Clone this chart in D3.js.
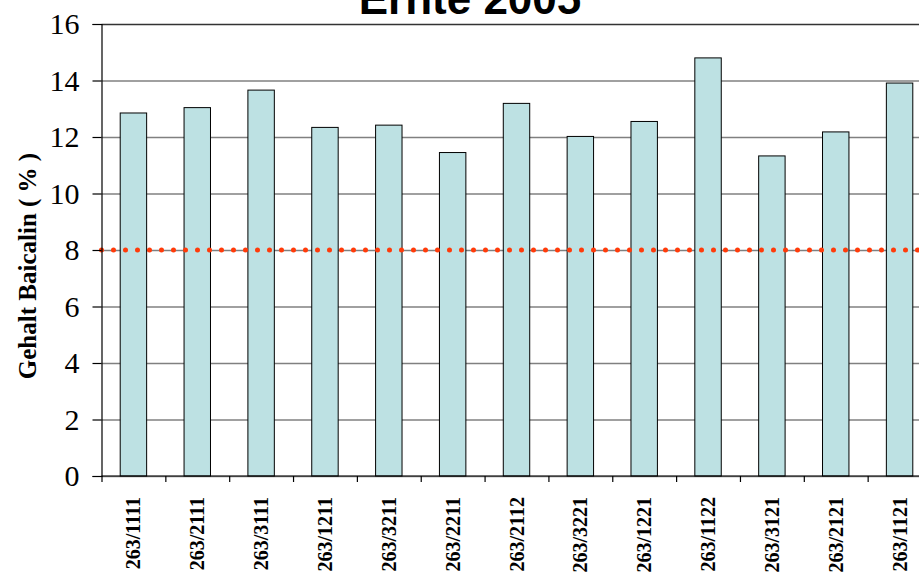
<!DOCTYPE html>
<html>
<head>
<meta charset="utf-8">
<script src="https://cdn.jsdelivr.net/npm/d3@7"></script>
<style>
  html, body { margin: 0; padding: 0; background: #fff; overflow: hidden; }
  .serif { font-family: 'Liberation Serif', 'Times New Roman', Tinos, 'DejaVu Serif', serif; }
</style>
</head>
<body>
<div id="chart"></div>
<script>
// data
const categories = ['263/1111', '263/2111', '263/3111', '263/1211', '263/3211', '263/2211', '263/2112',
  '263/3221', '263/1221', '263/1122', '263/3121', '263/2121', '263/1121'];
const values = [12.85, 13.04, 13.66, 12.34, 12.42, 11.45, 13.19, 12.02, 12.55, 14.8, 11.33, 12.18, 13.91];
const yTicks = [0, 2, 4, 6, 8, 10, 12, 14, 16];
const threshold = 8;
const title = 'Ernte 2005';
const yTitle = 'Gehalt Baicalin ( % )';

const width = 919;
const height = 576;
const plot = { left: 101.5, right: 931.5, top: 24, bottom: 476 };

const svg = d3.select('#chart')
  .append('svg')
  .attr('width', width)
  .attr('height', height)
  .attr('xmlns', 'http://www.w3.org/2000/svg');

const x = d3.scaleBand()
  .domain(categories)
  .range([plot.left, plot.right])
  .padding(0);

const xEdge = d3.scaleLinear()
  .domain([0, categories.length])
  .range([plot.left, plot.right]);

const y = d3.scaleLinear()
  .domain([0, 16])
  .range([plot.bottom, plot.top]);

// grid lines
svg.append('g')
  .attr('transform', 'translate(' + plot.left + ',0)')
  .call(d3.axisLeft(y).tickValues(yTicks).tickSize(-(plot.right - plot.left)).tickFormat(''))
  .call(g => g.select('.domain').remove())
  .call(g => g.selectAll('line')
    .attr('stroke', d => (d === 16 ? '#333' : '#808080'))
    .attr('stroke-width', 1.5));

// bars
const barW = x.bandwidth() * 0.414;
svg.append('g')
  .selectAll('rect')
  .data(values)
  .enter()
  .append('rect')
  .attr('x', (d, i) => x(categories[i]) + (x.bandwidth() - barW) / 2)
  .attr('y', d => y(d))
  .attr('width', barW)
  .attr('height', d => plot.bottom - y(d))
  .attr('fill', '#bde1e3')
  .attr('stroke', '#000')
  .attr('stroke-width', 1);

// dotted threshold line
svg.append('line')
  .attr('x1', plot.left)
  .attr('x2', plot.right)
  .attr('y1', y(threshold))
  .attr('y2', y(threshold))
  .attr('stroke', '#ff3b0a')
  .attr('stroke-width', 5)
  .attr('stroke-linecap', 'round')
  .attr('stroke-dasharray', '0,12');

// y axis
svg.append('g')
  .attr('transform', 'translate(' + plot.left + ',0)')
  .call(d3.axisLeft(y).tickValues(yTicks).tickSize(9).tickPadding(13))
  .call(g => g.attr('font-family', null).attr('font-size', null))
  .call(g => g.select('.domain').attr('stroke', '#000').attr('stroke-width', 1.2))
  .call(g => g.selectAll('line').attr('stroke', '#000').attr('stroke-width', 1.2))
  .call(g => g.selectAll('text')
    .attr('class', 'serif')
    .style('font-size', '30px')
    .attr('fill', '#000'));

// x axis with ticks between categories
svg.append('g')
  .attr('transform', 'translate(0,' + plot.bottom + ')')
  .call(d3.axisBottom(xEdge).tickValues(d3.range(0, categories.length + 1)).tickSize(6).tickFormat(''))
  .call(g => g.select('.domain').attr('stroke', '#000').attr('stroke-width', 1.2).attr('d', 'M' + plot.left + ',0H' + plot.right))
  .call(g => g.selectAll('line').attr('stroke', '#000').attr('stroke-width', 1.2));

svg.append('g')
  .selectAll('text')
  .data(categories)
  .enter()
  .append('text')
  .attr('class', 'serif')
  .attr('transform', d => 'translate(' + (x(d) + x.bandwidth() / 2 + 7) + ',497) rotate(-90)')
  .attr('text-anchor', 'end')
  .style('font-weight', 'bold')
  .style('font-size', '20px')
  .text(d => d);

// axis title
svg.append('text')
  .attr('class', 'serif')
  .attr('transform', 'translate(36,266) rotate(-90)')
  .attr('text-anchor', 'middle')
  .style('font-weight', 'bold')
  .style('font-size', '25px')
  .text(yTitle);

// chart title
svg.append('text')
  .attr('x', 470)
  .attr('y', 14)
  .attr('text-anchor', 'middle')
  .style('font-family', "'Liberation Sans', Arial, sans-serif")
  .style('font-weight', 'bold')
  .style('font-size', '44px')
  .text(title);
</script>
</body>
</html>
